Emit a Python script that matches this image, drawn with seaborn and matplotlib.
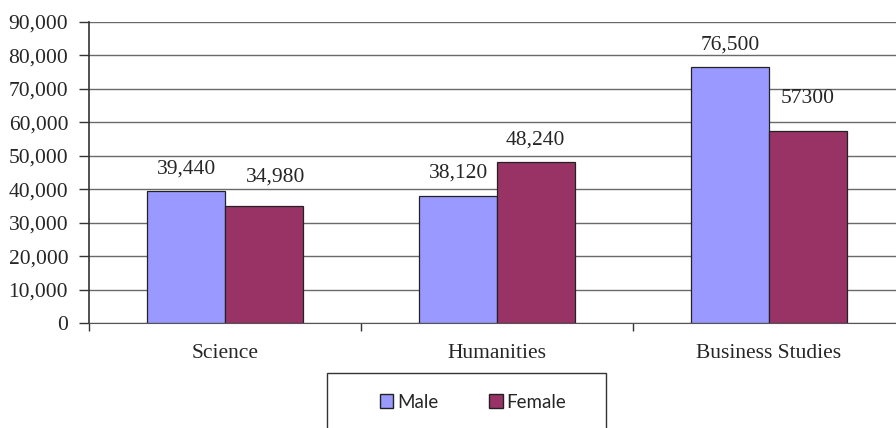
import seaborn as sns
import matplotlib.pyplot as plt
import pandas as pd
from matplotlib.patches import Rectangle
from matplotlib.ticker import FuncFormatter, FixedLocator

# chart values
subjects = ['Science', 'Humanities', 'Business Studies']
male = [39440, 38120, 76500]
female = [34980, 48240, 57300]
male_labels = ['39,440', '38,120', '76,500']
female_labels = ['34,980', '48,240', '57300']

df = pd.DataFrame({
    'subject': subjects * 2,
    'value': male + female,
    'sex': ['Male'] * 3 + ['Female'] * 3,
})

sns.set_style('white')
plt.rcParams['font.family'] = ['Liberation Serif', 'DejaVu Serif']

fig = plt.figure(figsize=(8.96, 4.28), dpi=100)
# plot area runs past the right edge of the picture, like the original
ax = fig.add_axes([89 / 896, 105 / 428, 816 / 896, 301 / 428])

sns.barplot(df, x='subject', y='value', hue='sex', order=subjects,
            palette={'Male': '#9999ff', 'Female': '#993366'}, saturation=1,
            width=0.57, edgecolor='#222222', linewidth=0.9,
            errorbar=None, legend=False, ax=ax, zorder=3)

ax.set_xlim(-0.5, 2.5)
ax.set_ylim(0, 90000)
ax.set_yticks(range(0, 90001, 10000))
ax.yaxis.set_major_formatter(FuncFormatter(lambda v, p: f'{int(v):,}'))
ax.grid(axis='y', color='#6a6a6a', linewidth=1, zorder=0)
ax.set_xlabel('')
ax.set_ylabel('')

for s in ['top', 'right']:
    ax.spines[s].set_visible(False)
ax.spines['left'].set_color('#333333')
ax.spines['bottom'].set_color('#555555')
ax.spines['left'].set_linewidth(1.2)

ax.tick_params(axis='y', direction='out', length=7, width=1, color='#333333',
               pad=8, labelsize=15.5, left=True)
ax.tick_params(axis='x', which='major', length=0, pad=15, labelsize=15.5)
ax.xaxis.set_minor_locator(FixedLocator([-0.5, 0.5, 1.5]))
ax.tick_params(axis='x', which='minor', direction='out', length=6, width=1,
               color='#333333', bottom=True)

# value labels above bars
male_off = [(0, 22), (0, 22), (0, 22)]
female_off = [(12, 29), (0, 22), (0, 33)]
bars = ax.patches
for i in range(3):
    for bar, lab, off in [(bars[i], male_labels[i], male_off[i]),
                          (bars[i + 3], female_labels[i], female_off[i])]:
        ax.annotate(lab, (bar.get_x() + bar.get_width() / 2, bar.get_height()),
                    xytext=off, textcoords='offset pixels',
                    ha='center', va='center', fontsize=15.5)

# legend box below the chart
fig.patches.append(Rectangle((327 / 896, -0.1), (606 - 327) / 896, 0.1 + 55 / 428,
                             transform=fig.transFigure, fill=False,
                             edgecolor='#333333', linewidth=1))
handles = [Rectangle((0, 0), 1, 1, facecolor='#9999ff', edgecolor='#222222'),
           Rectangle((0, 0), 1, 1, facecolor='#993366', edgecolor='#222222')]
fig.legend(handles, ['Male', 'Female'], loc='center', bbox_to_anchor=(473 / 896, 1 - 402 / 428),
           ncol=2, frameon=False, handlelength=0.72, handleheight=0.72,
           handletextpad=0.2, columnspacing=2.7,
           prop={'family': ['Lato', 'DejaVu Sans'], 'size': 13.5})

fig.savefig('out.png', dpi=100)
